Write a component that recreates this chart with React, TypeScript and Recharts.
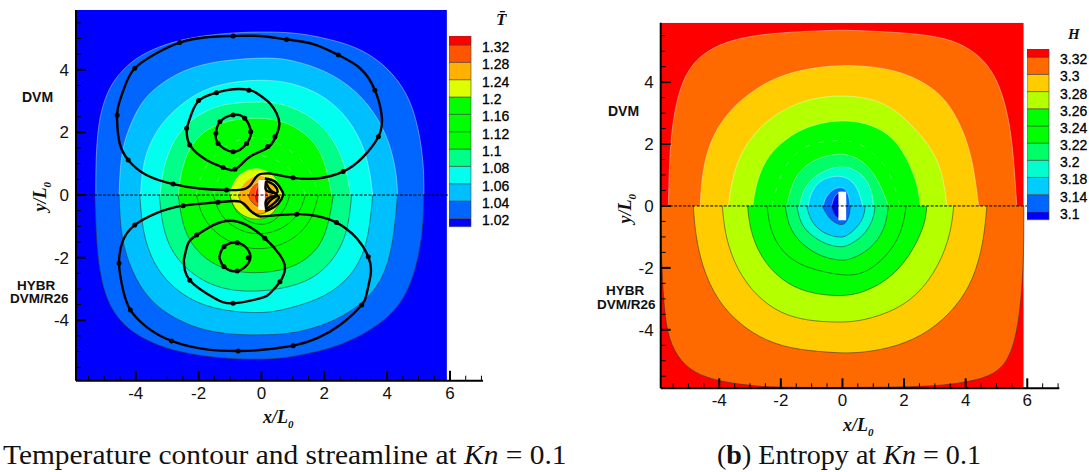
import { Area, Bar, BarChart, ComposedChart, Line, XAxis, YAxis } from "recharts";

type Pt = [number, number];

// ---- temperature panel, contour outlines (x, y)
const tempFrame: Pt[] = [[-5.9, 5.91], [5.9, 5.91]];
const tempTop102: Pt[] = [[-5.27, 0], [-5.27, 1.12], [-5.2, 2.18], [-5.04, 2.93], [-4.77, 3.57], [-4.29, 4.15], [-3.66, 4.58], [-2.81, 4.9], [-1.96, 5.08], [-0.9, 5.19], [0.27, 5.22], [1.23, 5.17], [2.07, 5.0], [3.03, 4.74], [3.88, 4.21], [4.52, 3.46], [4.89, 2.61], [5.1, 1.54], [5.17, 0.69], [5.17, 0]];
const tempTop104: Pt[] = [[-4.53, 0], [-4.48, 1.22], [-4.29, 1.97], [-3.87, 2.93], [-3.34, 3.46], [-2.6, 3.94], [-1.75, 4.21], [-0.9, 4.33], [0.27, 4.4], [1.01, 4.31], [2.07, 3.97], [3.03, 3.35], [3.77, 2.4], [4.15, 1.44], [4.31, 0.59], [4.33, 0]];
const tempTop106: Pt[] = [[-3.85, 0], [-3.78, 0.9], [-3.6, 1.54], [-3.23, 2.24], [-2.6, 2.88], [-1.85, 3.38], [-0.9, 3.64], [0.27, 3.69], [1.01, 3.57], [1.86, 3.25], [2.6, 2.66], [3.19, 1.76], [3.45, 0.8], [3.54, 0]];
const tempTop108: Pt[] = [[-3.23, 0], [-3.13, 0.9], [-2.81, 1.76], [-2.28, 2.4], [-1.54, 2.82], [-0.9, 2.95], [0.27, 3.0], [1.01, 2.82], [1.86, 2.34], [2.45, 1.54], [2.73, 0.69], [2.84, 0]];
const tempTop110: Pt[] = [[-2.65, 0], [-2.54, 0.9], [-2.22, 1.66], [-1.73, 2.13], [-0.9, 2.45], [0.27, 2.48], [1.01, 2.24], [1.65, 1.76], [2.02, 1.12], [2.24, 0]];
const tempTop112: Pt[] = [[-2.07, 0], [-1.9, 0.8], [-1.3, 1.5], [-0.6, 1.85], [0.2, 1.85], [1, 1.4], [1.6, 0.8], [1.81, 0]];
const tempTop116: Pt[] = [[-1.53, 0], [-1.35, 0.7], [-0.9, 1.15], [-0.2, 1.35], [0.6, 1.1], [1.2, 0.6], [1.4, 0]];
const tempTop120: Pt[] = [[-1.0, 0], [-0.9, 0.45], [-0.55, 0.78], [-0.15, 0.88], [0.25, 0.75], [0.55, 0.4], [0.68, 0]];
const tempTop124: Pt[] = [[-0.74, 0], [-0.62, 0.35], [-0.3, 0.6], [0, 0.65], [0.3, 0.5], [0.45, 0.2], [0.5, 0]];
const tempTop128: Pt[] = [[-0.42, 0], [-0.36, 0.22], [-0.15, 0.42], [0.1, 0.45], [0.2, 0.2], [0.2, 0]];
const tempTop132: Pt[] = [[-0.2, 0], [-0.17, 0.2], [-0.1, 0.32], [0.1, 0.32], [0.1, 0]];

const tempBot102: Pt[] = [[-5.3, 0], [-5.25, -1.54], [-5.14, -2.5], [-4.93, -3.35], [-4.51, -4.05], [-3.87, -4.55], [-3.02, -4.92], [-1.96, -5.14], [-0.9, -5.24], [0.27, -5.25], [1.01, -5.17], [2.29, -4.9], [3.35, -4.42], [4.2, -3.78], [4.67, -3.09], [4.99, -2.08], [5.15, -1.01], [5.17, 0]];
const tempBot104: Pt[] = [[-4.53, 0], [-4.48, -1.22], [-4.24, -2.18], [-3.76, -3.14], [-3.02, -3.83], [-1.96, -4.31], [-0.9, -4.47], [0.27, -4.47], [1.01, -4.42], [2.07, -4.15], [3.13, -3.57], [3.88, -2.72], [4.2, -1.54], [4.33, 0]];
const tempBot106: Pt[] = [[-3.87, 0], [-3.78, -1.22], [-3.45, -2.18], [-2.91, -2.88], [-2.17, -3.41], [-1.32, -3.67], [-0.47, -3.76], [0.27, -3.76], [1.01, -3.59], [2.07, -3.25], [2.92, -2.56], [3.4, -1.54], [3.54, 0]];
const tempBot108: Pt[] = [[-3.25, 0], [-3.13, -1.22], [-2.7, -2.08], [-1.96, -2.72], [-1.11, -3.04], [-0.26, -3.09], [0.6, -3.01], [1.65, -2.72], [2.39, -1.97], [2.76, -1.12], [2.87, 0]];
const tempBot110: Pt[] = [[-2.65, 0], [-2.49, -1.12], [-2.06, -1.81], [-1.43, -2.29], [-0.58, -2.52], [0.69, -2.45], [1.54, -2.02], [2.07, -1.33], [2.29, 0]];
const tempBot112: Pt[] = [[-2.07, 0], [-1.9, -0.7], [-1.4, -1.3], [-0.6, -1.7], [0.2, -1.75], [1, -1.45], [1.6, -0.85], [1.81, 0]];
const tempBot116: Pt[] = [[-1.53, 0], [-1.35, -0.6], [-0.9, -1.05], [-0.2, -1.3], [0.6, -1.15], [1.2, -0.65], [1.4, 0]];
const tempBot118: Pt[] = [[-1.0, 0], [-0.85, -0.55], [-0.3, -0.95], [0.3, -0.95], [0.75, -0.5], [0.9, 0]];
const tempBot120: Pt[] = [[-1.0, 0], [-0.9, -0.4], [-0.55, -0.7], [-0.15, -0.8], [0.25, -0.72], [0.55, -0.35], [0.68, 0]];
const tempBot124: Pt[] = [[-0.74, 0], [-0.62, -0.33], [-0.3, -0.58], [0, -0.64], [0.3, -0.48], [0.45, -0.2], [0.5, 0]];
const tempBot128: Pt[] = [[-0.42, 0], [-0.35, -0.2], [-0.15, -0.37], [0.1, -0.4], [0.2, -0.2], [0.2, 0]];
const tempBot132: Pt[] = [[-0.2, 0], [-0.17, -0.18], [-0.1, -0.3], [0.1, -0.3], [0.1, 0]];

const tempTopFills = ["#0066ff", "#00bfff", "#00ffee", "#00ff88", "#00ff00", "#00ff00", "#00ff00", "#ddff00", "#ffb000", "#ff5500", "#ff0000"];
const tempBotFills = ["#0066ff", "#00bfff", "#00ffee", "#00ff88", "#00ff00", "#00ff00", "#00ff00", "#00ff00", "#ddff00", "#ffb000", "#ff5500", "#ff0000"];
const tempTop = [tempTop102, tempTop104, tempTop106, tempTop108, tempTop110, tempTop112, tempTop116, tempTop120, tempTop124, tempTop128, tempTop132];
const tempBot = [tempBot102, tempBot104, tempBot106, tempBot108, tempBot110, tempBot112, tempBot116, tempBot118, tempBot120, tempBot124, tempBot128, tempBot132];

// ---- streamlines
const loopTopOuter: Pt[] = [[0.27, 0.69], [1.01, 0.55], [1.76, 0.53], [2.6, 0.75], [3.24, 1.22], [3.72, 1.86], [3.83, 2.5], [3.61, 3.35], [3.14, 4.05], [2.45, 4.47], [1.65, 4.82], [0.8, 4.97], [-0.05, 5.08], [-0.9, 5.08], [-1.75, 5.04], [-2.6, 4.87], [-3.34, 4.53], [-4.03, 4.05], [-4.35, 3.46], [-4.56, 2.82], [-4.59, 2.29], [-4.51, 1.65], [-4.24, 1.12], [-3.66, 0.64], [-2.81, 0.35], [-1.96, 0.21], [-1.11, 0.16], [-0.58, 0.18], [-0.31, 0.37], [-0.1, 0.64], [0.27, 0.69]];
const loopTopMiddle: Pt[] = [[-2.38, 2.13], [-2.22, 2.61], [-1.96, 3.04], [-1.43, 3.27], [-0.9, 3.38], [-0.37, 3.35], [-0.05, 3.19], [0.27, 2.93], [0.48, 2.61], [0.57, 2.24], [0.43, 1.81], [0.17, 1.49], [-0.37, 1.22], [-0.84, 0.82], [-1.22, 0.88], [-1.75, 1.12], [-2.28, 1.6], [-2.38, 2.13]];
const loopTopInner: Pt[] = [[-1.45, 1.97], [-1.32, 2.34], [-0.9, 2.56], [-0.53, 2.45], [-0.34, 2.02], [-0.47, 1.65], [-0.9, 1.38], [-1.38, 1.65], [-1.45, 1.97]];
const loopBotOuter: Pt[] = [[-0.05, -0.69], [1.12, -0.61], [1.76, -0.67], [2.39, -0.88], [3.03, -1.38], [3.4, -1.97], [3.48, -2.5], [3.35, -3.14], [3.19, -3.51], [2.5, -4.15], [1.76, -4.58], [1.01, -4.81], [-0.05, -4.95], [-0.74, -4.98], [-1.75, -4.93], [-2.86, -4.66], [-3.66, -4.21], [-4.17, -3.67], [-4.4, -3.04], [-4.53, -2.18], [-4.4, -1.44], [-4.03, -0.96], [-3.34, -0.58], [-2.49, -0.34], [-1.38, -0.23], [-0.68, -0.21], [-0.37, -0.48], [-0.15, -0.64], [-0.05, -0.69]];
const loopBotMiddle: Pt[] = [[-2.47, -2.08], [-2.33, -1.54], [-2.06, -1.28], [-1.53, -0.96], [-1.0, -0.82], [-0.47, -0.96], [0.11, -1.38], [0.59, -1.92], [0.75, -2.34], [0.59, -2.77], [0.27, -3.14], [-0.05, -3.3], [-0.9, -3.46], [-1.53, -3.27], [-2.28, -2.72], [-2.47, -2.08]];
const loopBotInner: Pt[] = [[-1.34, -1.99], [-1.19, -1.65], [-0.77, -1.52], [-0.42, -1.76], [-0.39, -2.13], [-0.77, -2.43], [-1.19, -2.29], [-1.34, -1.99]];
const clumpOuter: Pt[] = [[0.11, 0.53], [0.43, 0.43], [0.64, 0.16], [0.69, 0], [0.54, -0.27], [0.27, -0.46], [0.11, -0.5]];
const clumpUpper: Pt[] = [[0.15, 0.45], [0.42, 0.3], [0.5, 0.08], [0.25, 0.1], [0.13, 0.2], [0.15, 0.45]];
const clumpLower: Pt[] = [[0.15, -0.45], [0.42, -0.25], [0.55, -0.05], [0.25, -0.08], [0.13, -0.25], [0.15, -0.45]];
const clumpSpine: Pt[] = [[0.14, 0.4], [0.3, 0.15], [0.5, 0], [0.3, -0.15], [0.14, -0.4]];
const streamlines = [loopTopOuter, loopTopMiddle, loopTopInner, loopBotOuter, loopBotMiddle, loopBotInner, clumpOuter, clumpUpper, clumpLower, clumpSpine];
const arrowMarks: Pt[] = [[-2.6, 4.87], [-4.03, 4.05], [-4.59, 2.55], [-4.24, 1.12], [-2.81, 0.35], [-1.11, 0.16], [-0.9, 5.08], [0.8, 4.97], [2.45, 4.47], [3.61, 3.35], [3.72, 1.86], [2.6, 0.75], [1.01, 0.55], [-2.38, 2.13], [-2.0, 3.02], [-1.43, 3.27], [-0.4, 3.35], [0.43, 1.86], [0.2, 1.55], [-0.84, 0.82], [-1.22, 0.88], [-2.28, 1.6], [-1.45, 1.97], [-1.32, 2.34], [-0.9, 2.56], [-0.53, 2.45], [-0.34, 2.02], [-0.47, 1.65], [-0.9, 1.38], [-1.38, 1.65], [-4.03, -0.96], [-4.53, -2.18], [-4.17, -3.67], [-2.86, -4.66], [-0.74, -4.98], [-2.49, -0.34], [-1.38, -0.23], [1.01, -4.81], [3.19, -3.51], [3.4, -1.97], [2.39, -0.88], [1.12, -0.61], [-2.06, -1.28], [-2.28, -2.72], [-0.9, -3.46], [0.59, -2.77], [0.11, -1.38], [-1.19, -1.65], [-0.77, -1.52], [-1.19, -2.29], [-0.77, -2.43], [-0.42, -2.0]];
const tempBody: Pt[] = [[-0.1, 0.48], [0.11, 0.48]];

// ---- entropy panel
const entFrame: Pt[] = [[-5.9, 5.92], [5.88, 5.92]];
const entTop330: Pt[] = [[-5.65, 0], [-5.62, 1.49], [-5.51, 2.78], [-5.27, 3.85], [-4.94, 4.5], [-4.51, 4.93], [-3.86, 5.28], [-3.0, 5.49], [-1.92, 5.61], [-0.07, 5.69], [0.68, 5.66], [2.31, 5.58], [3.39, 5.42], [4.15, 5.09], [4.74, 4.56], [5.12, 3.85], [5.39, 2.89], [5.55, 1.7], [5.66, 0]];
const entTop328: Pt[] = [[-4.62, 0], [-4.56, 1.06], [-4.3, 2.13], [-3.75, 3.0], [-3.1, 3.59], [-2.35, 4.07], [-1.48, 4.37], [-0.62, 4.5], [-0.07, 4.54], [0.68, 4.53], [1.77, 4.39], [2.74, 3.96], [3.39, 3.42], [3.93, 2.46], [4.25, 1.38], [4.42, 0]];
const entTop326: Pt[] = [[-3.7, 0], [-3.59, 0.84], [-3.32, 1.7], [-2.78, 2.46], [-2.13, 3.0], [-1.37, 3.37], [-0.62, 3.53], [-0.07, 3.56], [0.68, 3.53], [1.55, 3.26], [2.31, 2.56], [2.95, 1.81], [3.28, 0.95], [3.39, 0]];
const entTop324: Pt[] = [[-2.91, 0], [-2.8, 0.73], [-2.51, 1.49], [-2.02, 2.03], [-1.37, 2.48], [-0.62, 2.7], [-0.07, 2.76], [0.68, 2.72], [1.55, 2.35], [2.09, 1.59], [2.47, 0.62], [2.52, 0]];
const entTop322: Pt[] = [[-2.29, 0], [-2.02, 1.06], [-1.59, 1.65], [-1.16, 1.97], [-0.4, 2.13], [0.47, 2.11], [1.01, 1.7], [1.55, 1.15], [1.87, 0]];
const entTop320: Pt[] = [[-1.81, 0], [-1.64, 0.73], [-1.37, 1.16], [-0.94, 1.49], [-0.4, 1.65], [-0.07, 1.68], [0.25, 1.65], [0.79, 1.38], [1.22, 0.73], [1.49, 0]];
const entTop318: Pt[] = [[-1.4, 0], [-1.27, 0.54], [-0.94, 0.95], [-0.4, 1.22], [-0.07, 1.27], [0.25, 1.25], [0.68, 1.0], [0.95, 0.54], [1.01, 0]];
const entTop316: Pt[] = [[-1.12, 0], [-1.02, 0.45], [-0.75, 0.82], [-0.3, 0.98], [0.15, 0.95], [0.5, 0.62], [0.66, 0]];
const entTop314: Pt[] = [[-0.62, 0], [-0.55, 0.3], [-0.3, 0.55], [-0.1, 0.6], [0.1, 0.58], [0.22, 0.3], [0.25, 0]];
const entTop310: Pt[] = [[-0.35, 0], [-0.28, 0.3], [-0.1, 0.46], [0.1, 0.48], [0.12, 0]];

const entBot330: Pt[] = [[-5.9, 0], [-5.88, -1.64], [-5.81, -3.04], [-5.7, -4.11], [-5.38, -4.87], [-4.84, -5.41], [-3.86, -5.7], [-2.78, -5.82], [-2.02, -5.87], [2.74, -5.86], [3.93, -5.71], [4.8, -5.52], [5.34, -5.08], [5.61, -4.33], [5.77, -3.36], [5.86, -2.17], [5.89, -1.1], [5.89, 0]];
const entBot328: Pt[] = [[-4.84, 0], [-4.78, -0.88], [-4.56, -1.96], [-4.08, -3.04], [-3.32, -3.85], [-2.45, -4.38], [-1.48, -4.65], [-0.07, -4.76], [0.68, -4.74], [1.77, -4.55], [2.85, -4.06], [3.71, -3.25], [4.25, -2.39], [4.58, -1.21], [4.69, 0]];
const entBot326: Pt[] = [[-3.9, 0], [-3.81, -0.99], [-3.43, -2.07], [-2.78, -2.93], [-2.02, -3.47], [-1.16, -3.71], [-0.07, -3.77], [0.68, -3.71], [1.77, -3.36], [2.63, -2.71], [3.28, -1.64], [3.55, -0.67], [3.61, 0]];
const entBot324: Pt[] = [[-3.08, 0], [-3.0, -0.78], [-2.67, -1.64], [-2.02, -2.39], [-1.16, -2.82], [-0.07, -2.93], [0.68, -2.82], [1.66, -2.28], [2.31, -1.42], [2.69, -0.56], [2.74, 0]];
const entBot322: Pt[] = [[-2.45, 0], [-2.35, -0.78], [-2.02, -1.42], [-1.37, -1.96], [-0.07, -2.26], [0.68, -2.23], [1.44, -1.64], [1.93, -0.88], [2.07, 0]];
const entBot320: Pt[] = [[-1.86, 0], [-1.75, -0.67], [-1.37, -1.21], [-0.72, -1.64], [-0.07, -1.77], [0.25, -1.74], [0.9, -1.42], [1.39, -0.78], [1.49, 0]];
const entBot318: Pt[] = [[-1.48, 0], [-1.37, -0.56], [-1.05, -0.94], [-0.51, -1.26], [-0.07, -1.33], [0.14, -1.31], [0.68, -0.99], [1.01, -0.45], [1.06, 0]];
const entBot316: Pt[] = [[-1.16, 0], [-1.05, -0.45], [-0.72, -0.83], [-0.29, -0.99], [-0.07, -1.01], [0.14, -1.0], [0.68, -0.5], [0.74, 0]];
const entBot314: Pt[] = [[-0.65, 0], [-0.45, -0.42], [-0.07, -0.65], [0.14, -0.55], [0.25, -0.2], [0.25, 0]];
const entBot310: Pt[] = [[-0.35, 0], [-0.28, -0.25], [-0.13, -0.42], [0.1, -0.42], [0.12, 0]];

const entFills = ["#ff6a00", "#ffcc00", "#b4ff00", "#00ff00", "#00ff00", "#00ff66", "#00ffcc", "#00ccff", "#0066ff", "#0000ff"];
const entTop = [entTop330, entTop328, entTop326, entTop324, entTop322, entTop320, entTop318, entTop316, entTop314, entTop310];
const entBot = [entBot330, entBot328, entBot326, entBot324, entBot322, entBot320, entBot318, entBot316, entBot314, entBot310];
const entBody: Pt[] = [[-0.13, 0.46], [0.12, 0.46]];

// ---- axes and colour bars
const xTicks = [-5.5, -5, -4.5, -4, -3.5, -3, -2.5, -2, -1.5, -1, -0.5, 0, 0.5, 1, 1.5, 2, 2.5, 3, 3.5, 4, 4.5, 5, 5.5, 6, 6.5, 7];
const yTicks = [-5.5, -5, -4.5, -4, -3.5, -3, -2.5, -2, -1.5, -1, -0.5, 0, 0.5, 1, 1.5, 2, 2.5, 3, 3.5, 4, 4.5, 5, 5.5];
const tempBarSpans = [0.48, 1, 1, 1, 1, 1, 1, 1, 1, 1, 1, 0.52];
const tempBarColors = ["#0000ff", "#0066ff", "#00bfff", "#00ffee", "#00ff88", "#00ff00", "#00ff00", "#00ff00", "#ddff00", "#ffb000", "#ff5500", "#ff0000"];
const tempBarLabels = ["1.02", "1.04", "1.06", "1.08", "1.1", "1.12", "1.16", "1.2", "1.24", "1.28", "1.32"];
const entBarSpans = [0.46, 1, 1, 1, 1, 1, 1, 1, 1, 1, 0.48];
const entBarColors = ["#0000ff", "#0066ff", "#00ccff", "#00ffcc", "#00ff66", "#00ff00", "#00ff00", "#b4ff00", "#ffcc00", "#ff6a00", "#ff0000"];
const entBarLabels = ["3.1", "3.14", "3.18", "3.2", "3.22", "3.24", "3.26", "3.28", "3.3", "3.32"];

const SANS = "'Liberation Sans', Arial, sans-serif";
const SERIF = "'Liberation Serif', 'Times New Roman', serif";

const rows = (pts: Pt[]) => pts.map(([x, y]) => ({ x, y }));

function BottomTick({ x, y, payload }: any) {
  const major = payload.value % 2 === 0;
  return (
    <g>
      <line x1={x} y1={y} x2={x} y2={y - (major ? 10 : 5)} stroke="#000" strokeWidth={major ? 2 : 1} />
      {major && <text x={x} y={y + 18} textAnchor="middle" fontSize={17} fontFamily={SANS} fill="#111">{payload.value}</text>}
    </g>
  );
}

function LeftTick({ x, y, payload }: any) {
  const major = payload.value % 2 === 0;
  return (
    <g>
      <line x1={x} y1={y} x2={x + (major ? 10 : 5)} y2={y} stroke="#000" strokeWidth={major ? 2 : 1} />
      {major && <text x={x - 7} y={y + 6} textAnchor="end" fontSize={17} fontFamily={SANS} fill="#111">{payload.value}</text>}
    </g>
  );
}

function Panel({ left, width, height, margin, xDomain, yDomain, frame, frameFill, top, bot, topFills, botFills, body, lineEnd, lines, marks }: any) {
  return (
    <div style={{ position: "absolute", left, top: 0 }}>
      <ComposedChart width={width} height={height} margin={margin}>
        <Area data={rows(frame)} dataKey="y" baseValue={yDomain[0]} type="linear" fill={frameFill} fillOpacity={1} stroke="none" isAnimationActive={false} />
        {top.map((pts: Pt[], i: number) => {
          // same colour as the level below: only a faint broken line shows
          const faint = topFills[i] === topFills[i - 1];
          return (
            <Area key={"t" + i} data={rows(pts)} dataKey="y" baseValue={0} type="basis" fill={topFills[i]} fillOpacity={1} stroke="#ffffff" strokeOpacity={faint ? 0.45 : 0.55} strokeWidth={0.7} strokeDasharray={faint ? "5 9" : undefined} isAnimationActive={false} />
          );
        })}
        {bot.map((pts: Pt[], i: number) => (
          <Area key={"b" + i} data={rows(pts)} dataKey="y" baseValue={0} type="basis" fill={botFills[i]} fillOpacity={1} stroke="#333" strokeOpacity={0.8} strokeWidth={0.7} isAnimationActive={false} />
        ))}
        <Area data={rows(body)} dataKey="y" baseValue={-body[0][1]} type="linear" fill="#fff" fillOpacity={1} stroke="none" isAnimationActive={false} />
        {lines.map((pts: Pt[], i: number) => (
          <Line key={"s" + i} data={rows(pts)} dataKey="y" type="natural" stroke="#000" strokeWidth={2.4} dot={false} isAnimationActive={false} />
        ))}
        {marks.length > 0 && (
          <Line data={rows(marks)} dataKey="y" stroke="none" dot={{ r: 2.5, fill: "#000", stroke: "#000", strokeWidth: 0 }} isAnimationActive={false} />
        )}
        <Line data={rows([[xDomain[0], 0], [lineEnd, 0]])} dataKey="y" stroke="#000" strokeWidth={1} strokeDasharray="3 1.5" dot={false} isAnimationActive={false} />
        <XAxis type="number" dataKey="x" domain={xDomain} ticks={xTicks} interval={0} height={30} tickSize={0} tickMargin={0} tickLine={false} tick={BottomTick} allowDataOverflow stroke="#000" strokeWidth={2} />
        <YAxis type="number" dataKey="y" domain={yDomain} ticks={yTicks} interval={0} width={40} tickSize={0} tickMargin={0} tickLine={false} tick={LeftTick} allowDataOverflow stroke="#000" strokeWidth={2} />
      </ComposedChart>
    </div>
  );
}

function ColorBar({ left, top, height, spans, colors, labels }: any) {
  const row: Record<string, any> = { name: "bar" };
  spans.forEach((s: number, i: number) => { row["b" + i] = s; });
  const total = spans.reduce((a: number, b: number) => a + b, 0);
  const ticks = labels.map((_: string, i: number) => spans.slice(0, i + 1).reduce((a: number, b: number) => a + b, 0));
  const BarTick = ({ x, y, index }: any) => (
    <text x={x + 11} y={y + 7} fontSize={14} fontFamily={SANS} fill="#000" stroke="#000" strokeWidth={0.3}>{labels[index]}</text>
  );
  return (
    <div style={{ position: "absolute", left, top }}>
      <BarChart width={61} height={height + 8} data={[row]} margin={{ top: 0, right: 0, bottom: 8, left: 0 }} barCategoryGap={0} stackOffset="none">
        <XAxis dataKey="name" type="category" hide />
        <YAxis type="number" orientation="right" domain={[0, total]} ticks={ticks} interval={0} width={39} axisLine={false} tickLine={false} tickSize={0} tickMargin={0} tick={BarTick} />
        {spans.map((_: number, i: number) => (
          <Bar key={i} dataKey={"b" + i} stackId="c" fill={colors[i]} stroke="#444" strokeWidth={0.6} isAnimationActive={false} />
        ))}
      </BarChart>
    </div>
  );
}

const Note = ({ left, top, size = 13.5, children }: any) => (
  <div style={{ position: "absolute", left, top, fontFamily: SANS, fontWeight: 700, fontSize: size, lineHeight: 1, whiteSpace: "nowrap", color: "#111" }}>{children}</div>
);

const AxisName = ({ name, left, top, rotate }: any) => (
  <div style={{ position: "absolute", left, top, fontFamily: SERIF, fontWeight: 700, fontStyle: "italic", fontSize: 18, lineHeight: 1, whiteSpace: "nowrap", color: "#111", transform: rotate ? "rotate(-90deg)" : undefined }}>
    {name}/L<sub style={{ fontSize: 11 }}>0</sub>
  </div>
);

const Caption = ({ left, stretch, children }: any) => (
  <div style={{ position: "absolute", left, top: 440, fontFamily: SERIF, fontSize: 26.5, lineHeight: 1.2, whiteSpace: "nowrap", color: "#111", transform: `scaleX(${stretch})`, transformOrigin: "left center" }}>{children}</div>
);

export default function App() {
  return (
    <div style={{ position: "absolute", left: 0, top: 0, width: 1089, height: 472, overflow: "hidden", background: "#fff" }}>
      <Panel
        left={0} width={490} height={420}
        margin={{ top: 10, right: 7, left: 36, bottom: 9.3 }}
        xDomain={[-5.9, 7.05]} yDomain={[-5.93, 5.91]}
        frame={tempFrame} frameFill="#0000ff"
        top={tempTop} bot={tempBot} topFills={tempTopFills} botFills={tempBotFills}
        body={tempBody} lineEnd={6.2} lines={streamlines} marks={arrowMarks}
      />
      <Panel
        left={600} width={465} height={430}
        margin={{ top: 22.7, right: 5.7, left: 20.7, bottom: 11.7 }}
        xDomain={[-5.9, 7.04]} yDomain={[-5.89, 5.92]}
        frame={entFrame} frameFill="#ff0000"
        top={entTop} bot={entBot} topFills={entFills} botFills={entFills}
        body={entBody} lineEnd={6.0} lines={[]} marks={[]}
      />
      <ColorBar left={449} top={36} height={190.7} spans={tempBarSpans} colors={tempBarColors} labels={tempBarLabels} />
      <ColorBar left={1027.3} top={49.3} height={170.7} spans={entBarSpans} colors={entBarColors} labels={entBarLabels} />

      <div style={{ position: "absolute", left: 496, top: 10, fontFamily: SERIF, fontStyle: "italic", fontWeight: 700, fontSize: 17, color: "#111" }}>T&#772;</div>
      <div style={{ position: "absolute", left: 1068, top: 26, fontFamily: SERIF, fontStyle: "italic", fontWeight: 700, fontSize: 15, color: "#111" }}>H</div>

      <Note left={22} top={90} size={14}>DVM</Note>
      <Note left={17} top={279}>HYBR</Note>
      <Note left={10} top={292}>DVM/R26</Note>
      <Note left={608} top={104} size={14}>DVM</Note>
      <Note left={606} top={284}>HYBR</Note>
      <Note left={597} top={298}>DVM/R26</Note>

      <AxisName name="x" left={263} top={408} />
      <AxisName name="y" left={27} top={186} rotate />
      <AxisName name="x" left={843} top={416} />
      <AxisName name="y" left={612} top={198} rotate />

      <Caption left={3} stretch={1.11}>
        Temperature contour and streamline at <i>Kn</i> = 0.1
      </Caption>
      <Caption left={717} stretch={1.06}>
        (<b>b</b>) Entropy at <i>Kn</i> = 0.1
      </Caption>
    </div>
  );
}
